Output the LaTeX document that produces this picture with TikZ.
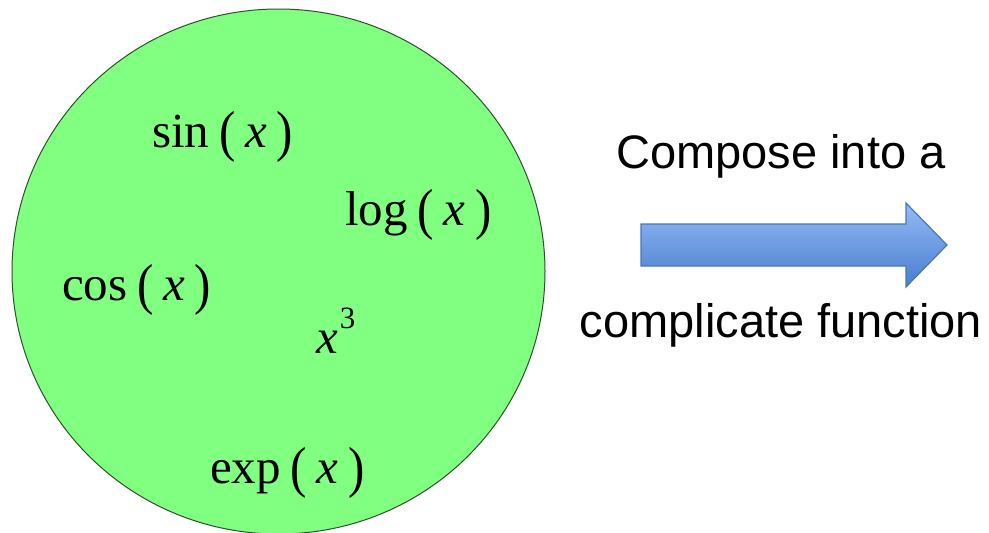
\documentclass[tikz,border=0pt]{standalone}
\usepackage{fontspec}
\setmainfont{Liberation Serif}
\newfontfamily\arialfont{Liberation Sans}
\usetikzlibrary{shapes.geometric}
\definecolor{ballgreen}{RGB}{128,255,128}
\definecolor{balledge}{RGB}{45,80,45}
\definecolor{arrtop}{RGB}{148,186,248}
\definecolor{arrbot}{RGB}{72,126,204}
\definecolor{arredge}{RGB}{70,120,185}
\tikzset{
  fn/.style={anchor=base west, inner sep=0pt, font=\fontsize{49}{56}\selectfont},
  caption/.style={anchor=base, inner sep=0pt, font=\arialfont\fontsize{47}{56}\selectfont},
}
\newcommand{\gp}{\hspace{0.2em}}
\newcommand{\lpar}{\raisebox{-0.07em}{\scalebox{1}[1.15]{(}}}
\newcommand{\rpar}{\raisebox{-0.07em}{\scalebox{1}[1.15]{)}}}
\begin{document}
\begin{tikzpicture}[x=1pt,y=-1pt]
\useasboundingbox (0,0) rectangle (989,533);
\node[ellipse, draw=balledge, line width=1pt, fill=ballgreen, minimum width=533pt, minimum height=525pt, inner sep=0pt] (ball) at (278.5,271.5) {};
\node[fn] (sin) at (152,147) {sin\gp\lpar\gp\textit{x}\gp\rpar};
\node[fn] (log) at (345,225) {log\gp\lpar\gp\textit{x}\gp\rpar};
\node[fn] (cos) at (62,300) {cos\gp\lpar\gp\textit{x}\gp\rpar};
\node[fn] (cube) at (316,353) {\textit{x}\raisebox{0.5em}{\fontsize{31}{34}\selectfont\hspace{0.06em}3}};
\node[fn] (exp) at (210,483) {exp\gp\lpar\gp\textit{x}\gp\rpar};
\path[draw=arredge, line width=1.2pt, top color=arrtop, bottom color=arrbot, line join=miter]
  (641,224) -- (906,224) -- (906,203) -- (947,245) -- (906,287) -- (906,266) -- (641,266) -- cycle;
\node[caption] (top) at (781,168) {Compose into a};
\node[caption] (bot) at (781,337) {complicate function};
\end{tikzpicture}
\end{document}
